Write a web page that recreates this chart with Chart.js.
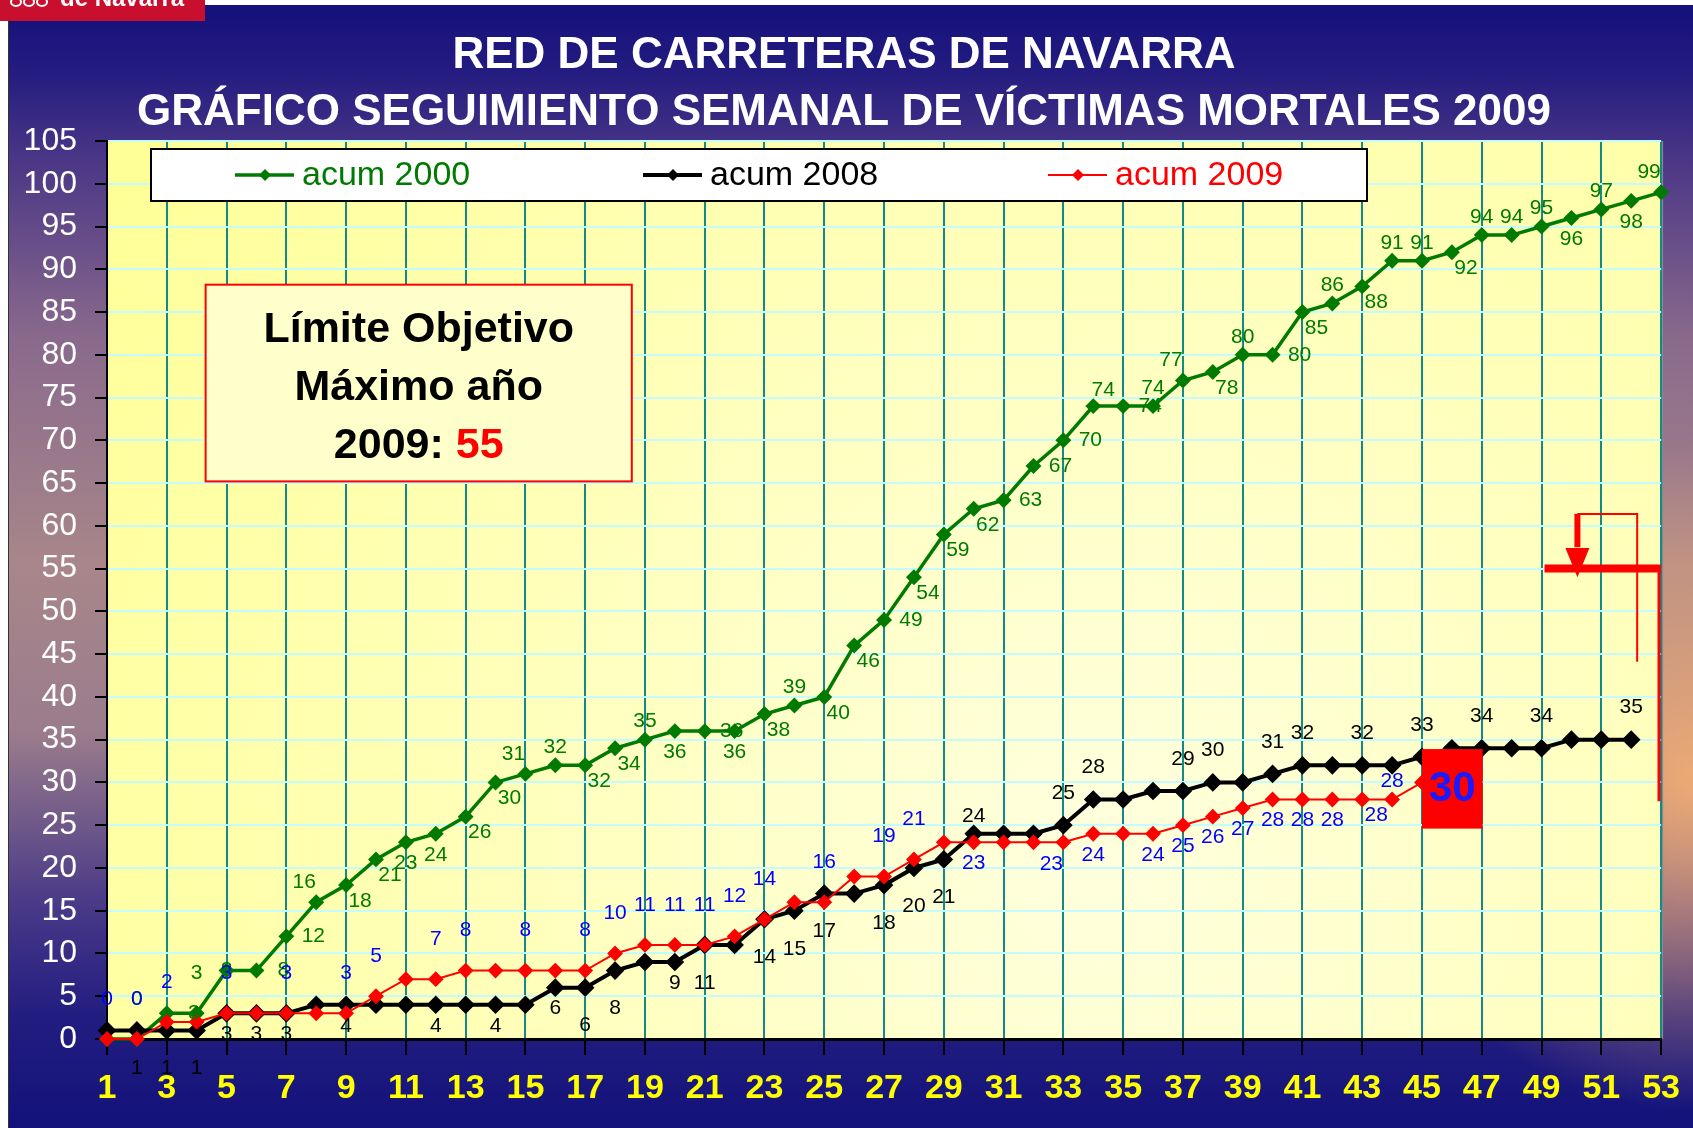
<!DOCTYPE html>
<html>
<head>
<meta charset="utf-8">
<script src="https://cdn.jsdelivr.net/npm/chart.js@4.4.1/dist/chart.umd.min.js"></script>
<style>
  body { margin: 0; background: #fff; }
  canvas { display: block; }
</style>
</head>
<body>
<canvas id="chart" width="1693" height="1128"></canvas>
<script>
const weeks = [];
for (let w = 1; w <= 53; w++) weeks.push(w);

const acum2000 = [0, 0, 3, 3, 8, 8, 12, 16, 18, 21, 23, 24, 26, 30, 31, 32, 32, 34, 35, 36, 36, 36, 38, 39, 40, 46, 49, 54, 59, 62, 63, 67, 70, 74, 74, 74, 77, 78, 80, 80, 85, 86, 88, 91, 91, 92, 94, 94, 95, 96, 97, 98, 99];
const acum2008 = [1, 1, 1, 1, 3, 3, 3, 4, 4, 4, 4, 4, 4, 4, 4, 6, 6, 8, 9, 9, 11, 11, 14, 15, 17, 17, 18, 20, 21, 24, 24, 24, 25, 28, 28, 29, 29, 30, 30, 31, 32, 32, 32, 32, 33, 34, 34, 34, 34, 35, 35, 35];
const acum2009 = [0, 0, 2, 2, 3, 3, 3, 3, 3, 5, 7, 7, 8, 8, 8, 8, 8, 10, 11, 11, 11, 12, 14, 16, 16, 19, 19, 21, 23, 23, 23, 23, 23, 24, 24, 24, 25, 26, 27, 28, 28, 28, 28, 28, 30];

// where each value label sits next to its point ('-' = no label)
const pos2000 = ['-','A','r','A','c','r','r','al','br','br','b','b','br','br','al','a','br','br','a','b','r','b','br','a','br','br','r','br','br','br','r','r','r','ar','r','a','al','br','a','r','br','a','br','a','a','br','a','a','a','b','a','b','al'];
const pos2008 = ['-','B','B','B','b','b','b','-','b','-','-','b','-','b','-','b','B','B','-','b','B','-','B','B','B','-','B','B','B','a','-','-','U','U','-','-','U','U','-','U','U','-','U','-','U','-','U','-','U','-','-','U'];
const pos2009 = ['A','A','A','-','A','-','A','-','A','A','-','A','A','-','A','-','A','A','A','A','A','A','A','-','A','-','A','A','-','b','-','-','bl','b','-','b','b','b','b','b','b','b','br','a','-'];

const offsets = {
  a: [0, -18], b: [0, 21], A: [0, -40], U: [0, -32], B: [0, 38], r: [27, 0], c: [0, 0],
  br: [14, 16], bl: [-12, 22], al: [-12, -20], ar: [10, -16]
};

const seriesNames = ['acum 2000', 'acum 2008', 'acum 2009'];
const seriesColors = ['#007a00', '#000000', '#ff0000'];
const labelColors = ['#007a00', '#000000', '#0000ff'];
const seriesPos = [pos2000, pos2008, pos2009];

const titleLines = ['RED DE CARRETERAS DE NAVARRA', 'GRÁFICO SEGUIMIENTO SEMANAL DE VÍCTIMAS MORTALES 2009'];
const noteLines = ['Límite Objetivo', 'Máximo año', '2009: '];
const limitValue = 55;
const lastWeek2009 = 45;

function diamond(ctx, x, y, r, color) {
  ctx.fillStyle = color;
  ctx.beginPath();
  ctx.moveTo(x, y - r);
  ctx.lineTo(x + r, y);
  ctx.lineTo(x, y + r);
  ctx.lineTo(x - r, y);
  ctx.closePath();
  ctx.fill();
}

const decor = {
  id: 'decor',
  beforeDraw(chart) {
    const ctx = chart.ctx;
    const a = chart.chartArea;
    const W = chart.width, H = chart.height;
    ctx.save();

    let g = ctx.createLinearGradient(0, 0, 0, H);
    g.addColorStop(0, '#14107a');
    g.addColorStop(0.06, '#221b80');
    g.addColorStop(0.14, '#4a3686');
    g.addColorStop(0.30, '#8a6a8c');
    g.addColorStop(0.50, '#a8868a');
    g.addColorStop(0.65, '#9a7c8c');
    g.addColorStop(0.80, '#4a3a88');
    g.addColorStop(0.90, '#221d80');
    g.addColorStop(1, '#13127a');
    ctx.fillStyle = g;
    ctx.fillRect(0, 0, W, H);

    let glow = ctx.createRadialGradient(W, 780, 10, W, 780, 330);
    glow.addColorStop(0, 'rgba(245,175,115,0.9)');
    glow.addColorStop(1, 'rgba(245,175,115,0)');
    ctx.fillStyle = glow;
    ctx.fillRect(0, 0, W, H);

    // page edges and header tab
    ctx.fillStyle = '#ffffff';
    ctx.fillRect(0, 0, W, 5);
    ctx.fillRect(0, 0, 8, H);
    ctx.fillStyle = '#333';
    ctx.fillRect(8, 5, 1, H - 5);
    ctx.fillStyle = '#c8102e';
    ctx.fillRect(0, 0, 205, 21);
    ctx.fillStyle = '#ffffff';
    ctx.font = 'bold 24px "Liberation Sans", Arial';
    ctx.textAlign = 'left';
    ctx.textBaseline = 'alphabetic';
    ctx.fillText('de Navarra', 60, 6);
    ctx.strokeStyle = '#ffffff';
    ctx.lineWidth = 2;
    for (let i = 0; i < 3; i++) {
      ctx.beginPath();
      ctx.ellipse(16 + i * 13, 2, 5, 4, 0, 0, Math.PI * 2);
      ctx.stroke();
    }

    // plot area background
    let r = ctx.createRadialGradient(1100, 850, 40, 1100, 850, 1250);
    r.addColorStop(0, '#ffffdc');
    r.addColorStop(1, '#ffff94');
    ctx.fillStyle = r;
    ctx.fillRect(a.left, a.top, a.right - a.left, a.bottom - a.top);
    ctx.fillStyle = '#8a8a8a';
    ctx.fillRect(a.right, a.top, 2, a.bottom - a.top);

    // title
    ctx.fillStyle = '#ffffff';
    ctx.font = 'bold 44px "Liberation Sans", Arial';
    ctx.textAlign = 'center';
    ctx.textBaseline = 'middle';
    ctx.fillText(titleLines[0], 844, 56);
    ctx.fillText(titleLines[1], 844, 113);
    ctx.restore();
  },
  afterDatasetsDraw(chart) {
    const ctx = chart.ctx;
    const xs = chart.scales.x, ys = chart.scales.y;
    const X = v => xs.getPixelForValue(v);
    const Y = v => ys.getPixelForValue(v);
    ctx.save();

    // value labels
    ctx.font = '21px "Liberation Sans", Arial';
    ctx.textAlign = 'center';
    ctx.textBaseline = 'middle';
    chart.data.datasets.forEach((ds, di) => {
      const meta = chart.getDatasetMeta(di);
      const pos = seriesPos[di];
      ctx.fillStyle = labelColors[di];
      meta.data.forEach((pt, i) => {
        const off = offsets[pos[i]];
        if (!off) return;
        ctx.fillText(String(ds.data[i]), pt.x + off[0], pt.y + off[1]);
      });
    });

    // target limit marks
    ctx.strokeStyle = '#ff0000';
    ctx.fillStyle = '#ff0000';
    ctx.lineWidth = 2;
    ctx.beginPath();
    ctx.moveTo(X(50.2), Y(61.4));
    ctx.lineTo(X(52.2), Y(61.4));
    ctx.lineTo(X(52.2), Y(44.1));
    ctx.stroke();
    ctx.lineWidth = 6;
    ctx.beginPath();
    ctx.moveTo(X(50.2), Y(61.4));
    ctx.lineTo(X(50.2), Y(57.5));
    ctx.stroke();
    ctx.beginPath();
    ctx.moveTo(X(50.2) - 12, Y(57.4));
    ctx.lineTo(X(50.2) + 12, Y(57.4));
    ctx.lineTo(X(50.2), Y(54));
    ctx.closePath();
    ctx.fill();
    ctx.lineWidth = 8;
    ctx.beginPath();
    ctx.moveTo(X(49.1), Y(limitValue));
    ctx.lineTo(X(53), Y(limitValue));
    ctx.stroke();
    ctx.lineWidth = 3;
    ctx.beginPath();
    ctx.moveTo(X(52.93), Y(limitValue));
    ctx.lineTo(X(52.93), Y(27.8));
    ctx.stroke();

    // latest 2009 value box
    const last = acum2009[acum2009.length - 1];
    const bx0 = X(lastWeek2009), bx1 = X(lastWeek2009 + 2.03);
    const by0 = Y(33.9), by1 = Y(24.6);
    ctx.fillStyle = '#ff0000';
    ctx.fillRect(bx0, by0, bx1 - bx0, by1 - by0);
    ctx.fillStyle = '#1a1aff';
    ctx.font = 'bold 42px "Liberation Sans", Arial';
    ctx.fillText(String(last), (bx0 + bx1) / 2, (by0 + by1) / 2 + 1);

    // note box
    const nx0 = X(4.3), nx1 = X(18.56), ny0 = Y(88.2), ny1 = Y(65.2);
    ctx.fillStyle = '#ffffcc';
    ctx.fillRect(nx0, ny0, nx1 - nx0, ny1 - ny0);
    ctx.strokeStyle = '#ff0000';
    ctx.lineWidth = 2;
    ctx.strokeRect(nx0, ny0, nx1 - nx0, ny1 - ny0);
    const cx = (nx0 + nx1) / 2;
    ctx.font = 'bold 43px "Liberation Sans", Arial';
    ctx.fillStyle = '#000';
    ctx.fillText(noteLines[0], cx, ny0 + 45);
    ctx.fillText(noteLines[1], cx, ny0 + 103);
    const w1 = ctx.measureText(noteLines[2]).width;
    const w2 = ctx.measureText(String(limitValue)).width;
    ctx.textAlign = 'left';
    ctx.fillText(noteLines[2], cx - (w1 + w2) / 2, ny0 + 161);
    ctx.fillStyle = '#ff0000';
    ctx.fillText(String(limitValue), cx - (w1 + w2) / 2 + w1, ny0 + 161);

    // legend
    ctx.fillStyle = '#ffffff';
    ctx.fillRect(151, 149, 1216, 52);
    ctx.strokeStyle = '#000';
    ctx.lineWidth = 2;
    ctx.strokeRect(151, 149, 1216, 52);
    const lx = [235, 643, 1048];
    ctx.font = '34px "Liberation Sans", Arial';
    ctx.textBaseline = 'middle';
    seriesNames.forEach((name, i) => {
      const ds = chart.data.datasets[i];
      ctx.strokeStyle = seriesColors[i];
      ctx.lineWidth = ds.borderWidth;
      ctx.beginPath();
      ctx.moveTo(lx[i], 175);
      ctx.lineTo(lx[i] + 59, 175);
      ctx.stroke();
      diamond(ctx, lx[i] + 30, 175, 6, seriesColors[i]);
      ctx.fillStyle = seriesColors[i];
      ctx.textAlign = 'left';
      ctx.fillText(name, lx[i] + 67, 176);
    });
    ctx.restore();
  }
};

new Chart(document.getElementById('chart'), {
  type: 'line',
  data: {
    labels: weeks,
    datasets: [
      { label: seriesNames[0], data: acum2000, borderColor: seriesColors[0], backgroundColor: seriesColors[0],
        borderWidth: 3.5, pointStyle: 'rectRot', pointRadius: 5.5, tension: 0, clip: false, order: 2 },
      { label: seriesNames[1], data: acum2008, borderColor: seriesColors[1], backgroundColor: seriesColors[1],
        borderWidth: 4, pointStyle: 'rectRot', pointRadius: 6.5, tension: 0, clip: false, order: 1 },
      { label: seriesNames[2], data: acum2009, borderColor: seriesColors[2], backgroundColor: seriesColors[2],
        borderWidth: 2, pointStyle: 'rectRot', pointRadius: 6.5, tension: 0, clip: false, order: 0 }
    ]
  },
  options: {
    responsive: false,
    animation: false,
    devicePixelRatio: 1,
    layout: { padding: { top: 141, right: 28, left: 0, bottom: 0 } },
    plugins: {
      legend: { display: false },
      title: { display: false },
      tooltip: { enabled: false }
    },
    scales: {
      x: {
        type: 'linear',
        min: 1,
        max: 53,
        ticks: {
          stepSize: 2,
          autoSkip: false,
          maxRotation: 0,
          color: '#ffff00',
          padding: 13,
          font: { family: '"Liberation Sans Narrow", "Liberation Sans", Arial', weight: 'bold', size: 34 }
        },
        grid: { color: '#138a8a', lineWidth: 2, tickColor: '#000', tickLength: 16 },
        border: { color: '#000', width: 3 },
        afterFit(s) { s.height = 89; }
      },
      y: {
        min: 0,
        max: 105,
        ticks: {
          stepSize: 5,
          color: '#ffffff',
          padding: 18,
          font: { family: '"Liberation Sans", Arial', size: 32 }
        },
        grid: { color: '#c2fcff', lineWidth: 2, tickColor: '#000', tickLength: 12 },
        border: { color: '#000', width: 2 },
        afterFit(s) { s.width = 107; }
      }
    }
  },
  plugins: [decor]
});
</script>
</body>
</html>
